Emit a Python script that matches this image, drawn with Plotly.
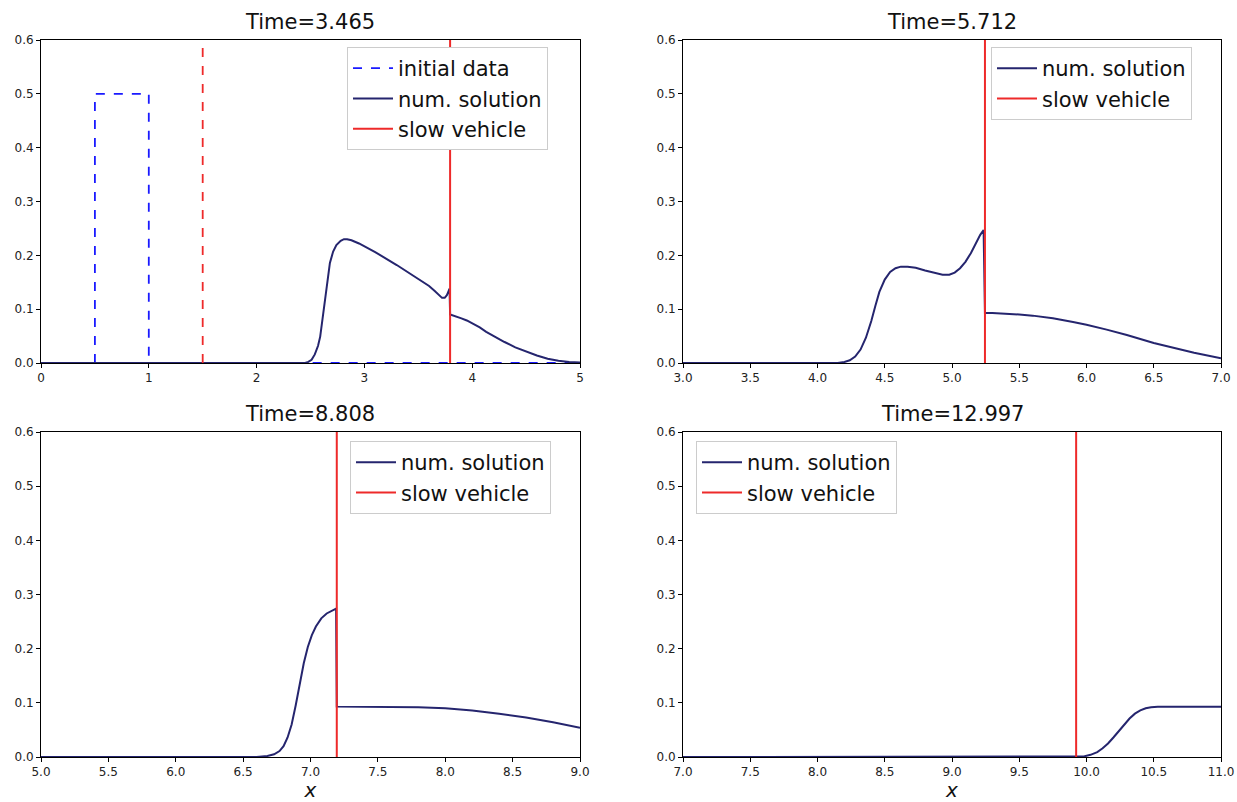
import plotly.graph_objects as go

# ---------------- data ----------------
titles = ["Time=3.465", "Time=5.712", "Time=8.808", "Time=12.997"]
x_ranges = [[0, 5], [3, 7], [5, 9], [7, 11]]
x_ticks = [[0, 1, 2, 3, 4, 5],
           [3.0, 3.5, 4.0, 4.5, 5.0, 5.5, 6.0, 6.5, 7.0],
           [5.0, 5.5, 6.0, 6.5, 7.0, 7.5, 8.0, 8.5, 9.0],
           [7.0, 7.5, 8.0, 8.5, 9.0, 9.5, 10.0, 10.5, 11.0]]
y_ticks = [0.0, 0.1, 0.2, 0.3, 0.4, 0.5, 0.6]

# initial data (panel 1)
init_x = [0, 0.5, 0.5, 1.0, 1.0, 5.0]
init_y = [0, 0, 0.5, 0.5, 0, 0]

# slow vehicle initial position (panel 1, dashed) and positions per panel
vehicle_start = 1.5
vehicle_pos = [3.795, 5.245, 7.195, 9.923]

# numerical solutions
sol1_x = [0, 2.45, 2.48, 2.51, 2.54, 2.57, 2.59, 2.61, 2.63, 2.65, 2.68, 2.71, 2.74,
          2.78, 2.81, 2.84, 2.88, 2.95, 3.1, 3.3, 3.5, 3.6, 3.65, 3.69, 3.72, 3.745,
          3.765, 3.78, 3.79, 3.795, 3.85, 3.9, 3.95, 4.0, 4.07, 4.13, 4.2, 4.3, 4.4,
          4.5, 4.6, 4.7, 4.8, 4.9, 5.0]
sol1_y = [0, 0, 0.002, 0.006, 0.016, 0.032, 0.049, 0.078, 0.112, 0.142, 0.186, 0.207, 0.219,
          0.227, 0.230, 0.230, 0.228, 0.222, 0.206, 0.182, 0.157, 0.143, 0.134, 0.126, 0.121, 0.121,
          0.126, 0.133, 0.138, 0.090, 0.087, 0.083, 0.079, 0.074, 0.066, 0.058, 0.050, 0.039, 0.029,
          0.021, 0.014, 0.008, 0.004, 0.002, 0.001]

sol2_x = [3.0, 4.15, 4.2, 4.24, 4.28, 4.32, 4.36, 4.40, 4.43, 4.46, 4.50, 4.54, 4.58, 4.62,
          4.67, 4.73, 4.80, 4.87, 4.93, 4.98, 5.02, 5.06, 5.10, 5.14, 5.18, 5.21, 5.235,
          5.245, 5.3, 5.4, 5.5, 5.6, 5.75, 5.9, 6.0, 6.15, 6.3, 6.5, 6.65, 6.8, 7.0]
sol2_y = [0, 0, 0.002, 0.005, 0.012, 0.025, 0.047, 0.078, 0.106, 0.132, 0.155, 0.169, 0.176, 0.179,
          0.179, 0.177, 0.172, 0.167, 0.164, 0.164, 0.168, 0.176, 0.188, 0.204, 0.224, 0.238, 0.247,
          0.093, 0.093, 0.092, 0.090, 0.088, 0.083, 0.076, 0.071, 0.062, 0.052, 0.037, 0.028, 0.019, 0.009]

sol3_x = [5.0, 6.6, 6.68, 6.73, 6.77, 6.80, 6.83, 6.86, 6.89, 6.92, 6.95, 6.98, 7.01,
          7.04, 7.08, 7.12, 7.16, 7.19, 7.195, 7.4, 7.6, 7.8, 8.0, 8.2, 8.4, 8.6, 8.8, 9.0]
sol3_y = [0, 0, 0.002, 0.005, 0.011, 0.020, 0.036, 0.060, 0.095, 0.135, 0.173, 0.203, 0.225,
          0.241, 0.256, 0.265, 0.271, 0.274, 0.093, 0.093, 0.093, 0.092, 0.090, 0.086, 0.080,
          0.073, 0.064, 0.054]

sol4_x = [7.0, 9.93, 9.98, 10.03, 10.08, 10.12, 10.16, 10.2, 10.24, 10.28, 10.32, 10.36,
          10.4, 10.44, 10.48, 10.53, 10.6, 10.8, 11.0]
sol4_y = [0, 0, 0.001, 0.004, 0.009, 0.016, 0.025, 0.036, 0.048, 0.060, 0.071, 0.080,
          0.086, 0.090, 0.092, 0.093, 0.093, 0.093, 0.093]

sol_x = [sol1_x, sol2_x, sol3_x, sol4_x]
sol_y = [sol1_y, sol2_y, sol3_y, sol4_y]

# ---------------- styling ----------------
W, H = 1237, 802
NAVY = "#25256e"
BLUE = "#1a1aff"
RED = "#ee2a2a"
FONT = "DejaVu Sans"

# plot areas in pixels (left, right, top, bottom)
boxes = [(41, 580, 40, 363), (683, 1221, 40, 363),
         (41, 580, 432, 757), (683, 1221, 432, 757)]
legend_pos = [(347, 47), (991, 47), (350, 441), (696, 441)]

fig = go.Figure()
annotations = []

for i in range(4):
    ax = "" if i == 0 else str(i + 1)
    xa, ya = "x" + ax, "y" + ax
    leg = "legend" if i == 0 else "legend" + str(i + 1)
    if i == 0:
        fig.add_trace(go.Scatter(x=init_x, y=init_y, mode="lines", name="initial data",
                                 line=dict(color=BLUE, width=1.8, dash="dash"),
                                 xaxis=xa, yaxis=ya, legend=leg))
    fig.add_trace(go.Scatter(x=sol_x[i], y=sol_y[i], mode="lines", name="num. solution",
                             line=dict(color=NAVY, width=2),
                             xaxis=xa, yaxis=ya, legend=leg))
    if i == 0:
        fig.add_trace(go.Scatter(x=[vehicle_start, vehicle_start], y=[0, 0.6], mode="lines",
                                 showlegend=False, line=dict(color=RED, width=1.8, dash="dash"),
                                 xaxis=xa, yaxis=ya))
    fig.add_trace(go.Scatter(x=[vehicle_pos[i], vehicle_pos[i]], y=[0, 0.6], mode="lines",
                             name="slow vehicle", line=dict(color=RED, width=2),
                             xaxis=xa, yaxis=ya, legend=leg))

    l, r, t, b = boxes[i]
    axis_common = dict(showline=True, linecolor="black", linewidth=1, mirror=True,
                       ticks="outside", ticklen=4, tickcolor="black", showgrid=False,
                       zeroline=False, automargin=False,
                       tickfont=dict(family=FONT, size=12, color="#222"))
    xdict = dict(domain=[l / W, r / W], range=x_ranges[i], tickvals=x_ticks[i],
                 ticktext=[str(v) if i == 0 else f"{v:.1f}" for v in x_ticks[i]],
                 anchor=ya, **axis_common)
    if i >= 2:
        xdict["title"] = dict(text="<i>x</i>", font=dict(family=FONT, size=20, color="#111"),
                              standoff=2)
    ydict = dict(domain=[1 - b / H, 1 - t / H], range=[0, 0.6], tickvals=y_ticks,
                 ticktext=[f"{v:.1f}" for v in y_ticks], anchor=xa, **axis_common)
    fig.update_layout(**{"xaxis" + ax: xdict, "yaxis" + ax: ydict})

    annotations.append(dict(text=titles[i], x=(l + r) / 2 / W, y=1 - (t - 18) / H,
                            xref="paper", yref="paper", xanchor="center", yanchor="middle",
                            showarrow=False, font=dict(family=FONT, size=21, color="#111")))
    lx, ly = legend_pos[i]
    fig.update_layout(**{leg: dict(x=lx / W, y=1 - ly / H, xanchor="left", yanchor="top",
                                   bgcolor="white", bordercolor="#cccccc", borderwidth=1,
                                   font=dict(family=FONT, size=21, color="#111"),
                                   itemwidth=40, tracegroupgap=2)})

fig.update_layout(width=W, height=H, margin=dict(l=0, r=0, t=0, b=0, autoexpand=False),
                  plot_bgcolor="white", paper_bgcolor="white",
                  annotations=annotations, showlegend=True)

fig.write_html("out.html", config={"displayModeBar": False},
               post_script="document.body.style.margin='0';document.body.style.overflow='hidden';")
